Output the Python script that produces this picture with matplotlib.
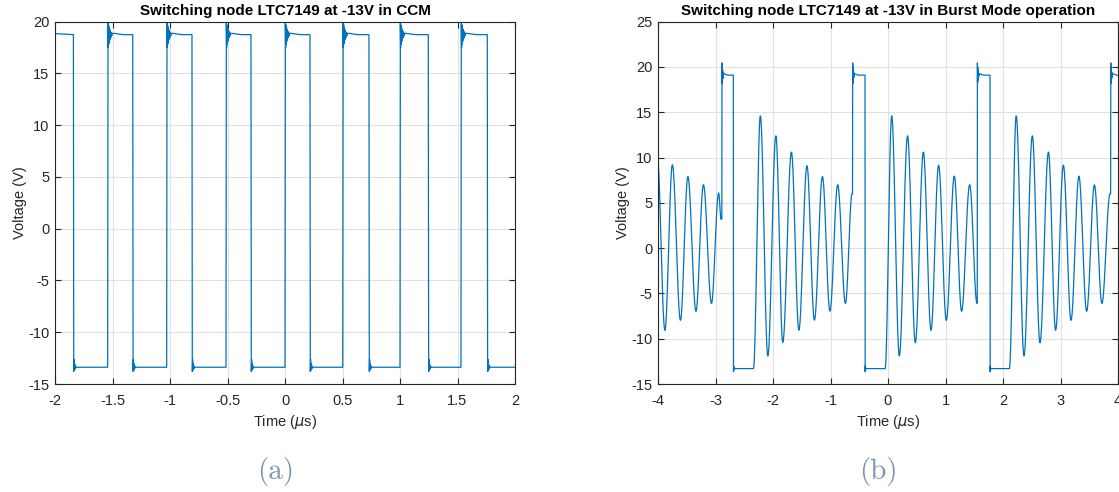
import numpy as np
import matplotlib.pyplot as plt
from matplotlib.ticker import FuncFormatter

plt.rcParams['font.family'] = ['Liberation Sans', 'DejaVu Sans']
plt.rcParams['axes.unicode_minus'] = False

# --- (a) CCM: edge times in us, settled levels in V
ccm_rise = [-1.542, -1.029, -0.513, 0.0, 0.502, 1.0, 1.53]
ccm_fall = [-1.84, -1.324, -0.809, -0.296, 0.217, 0.730, 1.246, 1.759]
ccm_high = 18.75
ccm_low = -13.38
ccm_ring_rise = [1.1, -1.25, 0.95, -0.9, 0.7, -0.65, 0.5, -0.45, 0.35, -0.3, 0.25, -0.2, 0.18, -0.1, 0.12]
ccm_settle_rise = [0.12, 0.08, 0.05, 0.02, 0.0]
ccm_ring_fall = [-0.4, 0.75, -0.3, 0.35, -0.2, 0.15, -0.1, 0.05, 0.0]

# --- (b) Burst Mode: pulse edges and ringing extrema
pulse_rise = [-2.89, -0.617, 1.552, 3.872]
pulse_fall = [-2.69, -0.40, 1.774]
burst_high = 19.1
burst_low = -13.3
burst_ring_rise = [1.35, -0.9, 0.9, -0.6, 0.6, -0.4, 0.35, -0.25, 0.2, -0.1, 0.1]
burst_settle_rise = [0.15, 0.08, 0.03, 0.0]
burst_ring_fall = [-0.35, 0.3, -0.15, 0.1, 0.0]

ring_t = [
    [-4.015, -3.88, -3.75, -3.61, -3.48, -3.34, -3.21, -3.07, -2.945, -2.905],
    [-2.34, -2.22, -2.09, -1.95, -1.83, -1.68, -1.55, -1.41, -1.28, -1.14, -1.01, -0.875, -0.74, -0.625],
    [-0.05, 0.064, 0.197, 0.34, 0.475, 0.615, 0.748, 0.88, 1.014, 1.153, 1.28, 1.42, 1.548],
    [2.11, 2.23, 2.365, 2.51, 2.643, 2.79, 2.915, 3.05, 3.183, 3.32, 3.455, 3.59, 3.72, 3.862],
]
ring_v = [
    [10.5, -9.07, 9.2, -7.97, 7.9, -6.97, 7.0, -6.1, 6.1, 3.2],
    [-13.3, 14.6, -11.9, 12.4, -10.4, 10.6, -9.05, 9.1, -7.95, 7.9, -6.95, 7.0, -6.1, 6.0],
    [-13.3, 14.6, -11.9, 12.4, -10.45, 10.6, -9.07, 9.15, -7.97, 7.95, -6.97, 7.0, -6.1],
    [-13.3, 14.6, -11.9, 12.4, -10.45, 10.6, -9.07, 9.15, -7.97, 7.95, -6.97, 6.98, -6.1, 6.0],
]

line_col = '#0072BD'


def edge(t, v_from, v_to, ring, settle, dt_ring=0.0025, dt_settle=0.02):
    ts = [t]
    vs = [v_from]
    for k, d in enumerate(ring):
        ts.append(t + 0.003 + k * dt_ring)
        vs.append(v_to + d)
    t1 = ts[-1]
    for k, d in enumerate(settle, 1):
        ts.append(t1 + k * dt_settle)
        vs.append(v_to + d)
    return ts, vs


def smooth(knot_t, knot_v, n=40):
    ts, vs = [], []
    for i in range(len(knot_t) - 1):
        s = np.linspace(0, 1, n, endpoint=False)
        w = (1 - np.cos(np.pi * s)) / 2
        ts.extend(knot_t[i] + (knot_t[i + 1] - knot_t[i]) * s)
        vs.extend(knot_v[i] + (knot_v[i + 1] - knot_v[i]) * w)
    ts.append(knot_t[-1])
    vs.append(knot_v[-1])
    return ts, vs


# CCM trace
events = sorted([(t, 'r') for t in ccm_rise] + [(t, 'f') for t in ccm_fall])
t_a, v_a = [-2.0], [18.85]
for t, kind in events:
    if kind == 'f':
        ts, vs = edge(t, ccm_high, ccm_low, ccm_ring_fall, [])
    else:
        ts, vs = edge(t, ccm_low, ccm_high, ccm_ring_rise, ccm_settle_rise)
    t_a += ts
    v_a += vs
t_a.append(2.0)
v_a.append(ccm_low)

# Burst Mode trace
t_b, v_b = [], []
for i in range(len(ring_t)):
    ts, vs = smooth(ring_t[i], ring_v[i])
    t_b += ts
    v_b += vs
    ts, vs = edge(pulse_rise[i], v_b[-1], burst_high, burst_ring_rise, burst_settle_rise)
    t_b += ts
    v_b += vs
    if i < len(pulse_fall):
        ts, vs = edge(pulse_fall[i], burst_high, burst_low, burst_ring_fall, [])
        t_b += ts
        v_b += vs
t_b.append(4.0)
v_b.append(burst_high)

fig = plt.figure(figsize=(11.19, 4.92), dpi=100)
ax1 = fig.add_axes([55 / 1119, 108 / 492, 460 / 1119, 362.3 / 492])
ax2 = fig.add_axes([658 / 1119, 108 / 492, 460 / 1119, 362.3 / 492])

fmt = FuncFormatter(lambda x, pos: '%g' % x)
for ax, t, v, title in [
    (ax1, t_a, v_a, 'Switching node LTC7149 at -13V in CCM'),
    (ax2, t_b, v_b, 'Switching node LTC7149 at -13V in Burst Mode operation'),
]:
    ax.plot(t, v, color=line_col, lw=0.9)
    ax.grid(True, color='#e0e0e0', lw=0.8)
    ax.set_axisbelow(True)
    ax.tick_params(direction='in', top=True, right=True, length=4, width=0.8,
                   labelsize=10.5, colors='#262626')
    ax.tick_params(axis='x', pad=7)
    ax.tick_params(axis='y', pad=4)
    for sp in ax.spines.values():
        sp.set_color('#262626')
        sp.set_linewidth(0.8)
    ax.xaxis.set_major_formatter(fmt)
    ax.yaxis.set_major_formatter(fmt)
    ax.set_xlabel(r'Time ($\mu$s)', fontsize=10.5, color='#262626', labelpad=4)
    ax.set_ylabel('Voltage (V)', fontsize=10.5, color='#262626', labelpad=1)
    ax.set_title(title, fontsize=11, fontweight='bold', pad=5)

ax1.set_xlim(-2, 2)
ax1.set_ylim(-15, 20)
ax1.set_xticks(np.arange(-2, 2.01, 0.5))
ax1.set_yticks(np.arange(-15, 20.1, 5))

ax2.set_xlim(-4, 4)
ax2.set_ylim(-15, 25)
ax2.set_xticks(np.arange(-4, 4.01, 1))
ax2.set_yticks(np.arange(-15, 25.1, 5))

fig.text(276 / 1119, 1 - 472 / 492, '(a)', ha='center', va='center',
         fontfamily='cmr10', fontsize=21, color='#7895b5')
fig.text(878 / 1119, 1 - 472 / 492, '(b)', ha='center', va='center',
         fontfamily='cmr10', fontsize=21, color='#7895b5')

fig.savefig('out.png', dpi=100)
